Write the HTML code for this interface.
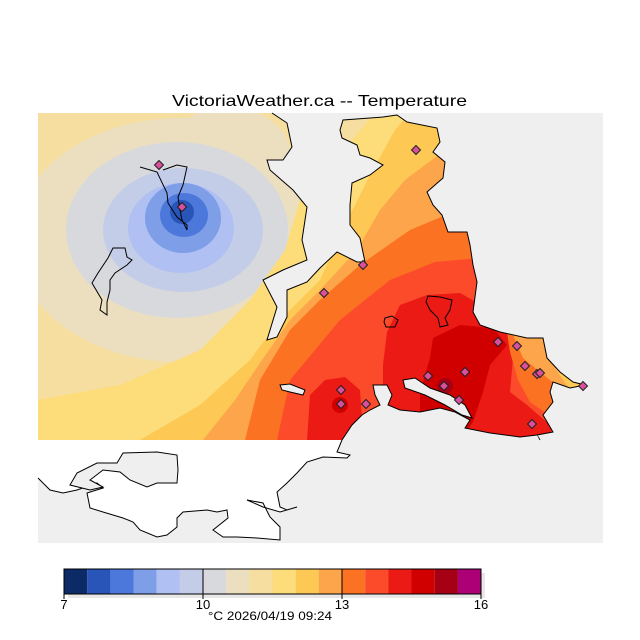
<!DOCTYPE html>
<html><head><meta charset="utf-8"><style>html,body{margin:0;padding:0;background:#fff}svg{display:block}</style></head>
<body>
<svg width="640" height="640" viewBox="0 0 640 640" xmlns="http://www.w3.org/2000/svg" font-family="Liberation Sans, sans-serif">
<defs>
<clipPath id="fc"><rect x="38" y="113" width="565" height="327"/></clipPath>
<g id="mk"><path d="M0,-4.5 L4.5,0 L0,4.5 L-4.5,0 Z" fill="#d8509a" stroke="#222" stroke-width="1"/></g>
</defs>
<text x="172" y="106" font-size="16" textLength="295" lengthAdjust="spacingAndGlyphs" fill="#000">VictoriaWeather.ca -- Temperature</text>
<rect x="38" y="113" width="565" height="430" fill="#efefef"/>
<g clip-path="url(#fc)">
<rect x="38" y="113" width="565" height="327" fill="#f5dea0"/>
<ellipse cx="180" cy="240" rx="165" ry="122" fill="#ebdfc0"/>
<ellipse cx="228" cy="155" rx="62" ry="48" fill="#ebdfc0"/>
<ellipse cx="177" cy="230" rx="111" ry="88" fill="#d8d9dc"/>
<ellipse cx="183" cy="230" rx="80" ry="62" fill="#c4cde8"/>
<ellipse cx="181" cy="228" rx="53" ry="45" fill="#b0c0f2"/>
<ellipse cx="183" cy="218" rx="38" ry="35" fill="#7f9ee8"/>
<ellipse cx="184" cy="215" rx="24" ry="22" fill="#4c78dc"/>
<ellipse cx="182" cy="212" rx="12" ry="12" fill="#2955b8"/>
<polygon points="38,400 120,385 200,350 250,300 285,250 300,200 335,160 365,125 375,113 603,113 603,440 38,440" fill="#fddc7a"/>
<polygon points="140,440 200,405 250,360 280,320 320,280 345,225 370,175 395,130 410,113 603,113 603,440" fill="#fdc853"/>
<polygon points="203,440 235,400 262,360 290,320 320,290 357,250 380,210 405,180 445,150 603,113 603,440" fill="#fda54a"/>
<polygon points="245,440 260,380 290,330 320,300 360,265 410,230 470,205 603,180 603,440" fill="#fc7223"/>
<polygon points="277,440 290,380 340,320 390,280 435,262 480,258 603,250 603,440" fill="#fc4b2a"/>
<polygon points="307,440 310,395 325,380 345,377 360,390 362,420 355,440" fill="#ec1a15"/>
<circle cx="340" cy="405" r="8" fill="#d00000"/>
<polygon points="380,435 383,382 383,365 387,332 400,305 427,295 460,293 490,310 507,332 513,358 510,392 527,405 550,425 553,440" fill="#ec1a15"/>
<polygon points="433,338 460,325 493,328 507,345 490,365 483,392 473,422 460,440 420,440 420,392 430,358" fill="#d00000"/>
<circle cx="445" cy="386" r="8" fill="#a60015"/>
<polygon points="507,332 540,330 575,375 590,395 560,400 553,418 530,402 518,380 510,352" fill="#fc7223"/>
<polygon points="513,335 545,330 580,378 590,392 565,392 540,372 523,358" fill="#fda54a"/>
<polygon points="555,368 590,380 590,392 570,390" fill="#fdc853"/>
</g>
<!-- water -->
<polygon fill="#efefef" points="272,113 287,123 292,147 283,160 267,160 270,170 293,190 307,207 302,240 307,260 283,270 263,280 277,307 267,340 277,337 287,317 287,290 307,282 320,268 337,252 357,262 365,262 360,238 350,225 350,205 352,183 370,175 383,165 370,158 360,155 357,145 342,138 340,130 343,120 383,117 397,115 407,122 437,128 440,142 433,152 445,162 443,178 427,192 433,205 442,215 448,232 467,232 470,245 473,265 477,282 473,312 480,325 500,332 527,338 543,338 547,358 560,372 573,382 585,385 570,388 553,382 550,392 553,402 543,415 553,432 537,435 540,440 603,440 603,113"/>
<polyline fill="none" stroke="#000" stroke-width="1" points="272,113 287,123 292,147 283,160 267,160 270,170 293,190 307,207 302,240 307,260 283,270 263,280 277,307 267,340 277,337 287,317 287,290 307,282 320,268 337,252 357,262 365,262 360,238 350,225 350,205 352,183 370,175 383,165 370,158 360,155 357,145 342,138 340,130 343,120 383,117 397,115 407,122 437,128 440,142 433,152 445,162 443,178 427,192 433,205 442,215 448,232 467,232 470,245 473,265 477,282 473,312 480,325 500,332 527,338 543,338 547,358 560,372 573,382 585,385 570,388 553,382 550,392 553,402 543,415 553,432 537,435 540,440"/>
<polygon fill="#efefef" points="342,440 352,425 362,415 370,410 380,405 375,395 373,385 387,385 392,395 388,405 400,410 420,412 440,408 455,412 470,420 465,428 490,433 520,437 537,435 540,441 342,441"/>
<polyline fill="none" stroke="#000" stroke-width="1" points="342,440 352,425 362,415 370,410 380,405 375,395 373,385 387,385 392,395 388,405 400,410 420,412 440,408 455,412 470,420 465,428 490,433 520,437 537,435"/>
<polygon fill="#efefef" stroke="#000" stroke-width="1" points="403,380 415,378 430,388 450,395 465,405 472,418 462,415 445,405 425,395 405,388"/>
<polygon fill="#efefef" stroke="#000" stroke-width="1" points="280,385 290,384 305,390 303,395 290,392 282,390"/>
<!-- island outlines -->
<polygon fill="none" stroke="#000" stroke-width="1" points="113,248 125,248 127,257 132,260 127,265 115,273 110,280 110,290 107,302 107,315 100,310 102,300 92,283 98,273 108,258"/>
<polyline fill="none" stroke="#000" stroke-width="1" points="140,167 157,172 167,193 168,203 177,217 187,225 187,230 182,220 180,210 178,197 183,185 187,167 177,165 163,170"/>
<polygon fill="none" stroke="#000" stroke-width="1" points="428,296 440,297 452,300 450,310 445,318 448,325 440,327 438,318 430,310 426,302"/>
<polygon fill="none" stroke="#000" stroke-width="1" points="385,318 392,316 398,320 395,327 386,327 384,322"/>
<!-- southern land -->
<rect x="38" y="440.5" width="565" height="102.5" fill="#efefef"/>
<polygon fill="#fff" points="38,440 342,440 337,452 350,455 347,458 323,457 307,462 297,473 287,483 277,492 280,507 287,510 297,507 280,512 263,507 247,500 263,503 270,517 280,527 280,540 257,538 237,537 223,537 213,530 228,518 227,510 217,512 207,510 183,512 177,518 177,527 167,535 157,537 140,530 133,522 123,518 103,512 90,508 87,493 103,488 97,483 77,490 63,493 50,490 43,483 38,478"/>
<polyline fill="none" stroke="#000" stroke-width="1" points="342,440 337,452 350,455 347,458 323,457 307,462 297,473 287,483 277,492 280,507 287,510 297,507 280,512 263,507 247,500 263,503 270,517 280,527 280,540 257,538 237,537 223,537 213,530 228,518 227,510 217,512 207,510 183,512 177,518 177,527 167,535 157,537 140,530 133,522 123,518 103,512 90,508 87,493 103,488 97,483 77,490 63,493 50,490 43,483 38,478"/>
<polygon fill="#efefef" stroke="#000" stroke-width="1" points="70,485 77,473 97,463 117,463 123,453 157,452 177,455 178,470 177,483 157,483 147,487 130,480 120,472 103,470 90,480 103,487 90,490"/>
<!-- markers -->
<use href="#mk" x="159" y="165"/><use href="#mk" x="182" y="207"/><use href="#mk" x="416" y="150"/><use href="#mk" x="363" y="265"/><use href="#mk" x="324" y="293"/><use href="#mk" x="341" y="390"/><use href="#mk" x="341" y="404"/><use href="#mk" x="366" y="404"/><use href="#mk" x="428" y="376"/><use href="#mk" x="444" y="386"/><use href="#mk" x="465" y="372"/><use href="#mk" x="498" y="342"/><use href="#mk" x="517" y="346"/><use href="#mk" x="525" y="366"/><use href="#mk" x="537" y="374"/><use href="#mk" x="540" y="373"/><use href="#mk" x="459" y="400"/><use href="#mk" x="532" y="424"/><use href="#mk" x="583" y="386"/>
<!-- colorbar -->
<rect x="68" y="573" width="417" height="25" fill="#e8e8e8"/>
<g>
<rect x="64" y="569" width="23.2" height="25" fill="#0c2a66"/>
<rect x="87.2" y="569" width="23.2" height="25" fill="#2955b8"/>
<rect x="110.3" y="569" width="23.2" height="25" fill="#4c78dc"/>
<rect x="133.5" y="569" width="23.2" height="25" fill="#7f9ee8"/>
<rect x="156.7" y="569" width="23.2" height="25" fill="#b0c0f2"/>
<rect x="179.8" y="569" width="23.2" height="25" fill="#c4cde8"/>
<rect x="203" y="569" width="23.2" height="25" fill="#d8d9dc"/>
<rect x="226.2" y="569" width="23.2" height="25" fill="#ebdfc0"/>
<rect x="249.3" y="569" width="23.2" height="25" fill="#f5dea0"/>
<rect x="272.5" y="569" width="23.2" height="25" fill="#fddc7a"/>
<rect x="295.7" y="569" width="23.2" height="25" fill="#fdc853"/>
<rect x="318.8" y="569" width="23.2" height="25" fill="#fda54a"/>
<rect x="342" y="569" width="23.2" height="25" fill="#fc7223"/>
<rect x="365.2" y="569" width="23.2" height="25" fill="#fc4b2a"/>
<rect x="388.3" y="569" width="23.2" height="25" fill="#ec1a15"/>
<rect x="411.5" y="569" width="23.2" height="25" fill="#d00000"/>
<rect x="434.7" y="569" width="23.2" height="25" fill="#a60015"/>
<rect x="457.8" y="569" width="23.2" height="25" fill="#ad0077"/>
</g>
<rect x="64" y="569" width="417" height="25" fill="none" stroke="#000" stroke-width="1"/>
<line x1="203" y1="569" x2="203" y2="594" stroke="#000"/>
<line x1="342" y1="569" x2="342" y2="594" stroke="#000"/>
<g stroke="#000"><line x1="64" y1="594" x2="64" y2="599"/><line x1="203" y1="594" x2="203" y2="599"/><line x1="342" y1="594" x2="342" y2="599"/><line x1="481" y1="594" x2="481" y2="599"/></g>
<g font-size="13" fill="#000" text-anchor="middle">
<text x="64" y="609">7</text><text x="203" y="609">10</text><text x="342" y="609">13</text><text x="481" y="609">16</text>
<text x="270" y="620" font-size="12" textLength="124" lengthAdjust="spacingAndGlyphs">°C  2026/04/19 09:24</text>
</g>
</svg>
</body></html>
